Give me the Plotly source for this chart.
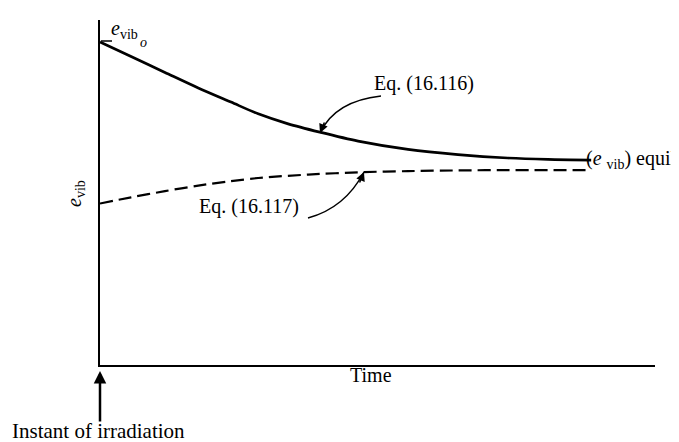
import plotly.graph_objects as go

# curve values (time and e_vib in arbitrary units, 0-10 scale)
time_relax = [0.0, 0.56, 1.17, 1.77, 2.36, 2.85, 3.39, 3.96, 4.65, 5.55, 6.45, 7.35, 8.07, 8.85]
e_vib_relax = [9.36, 8.94, 8.48, 8.03, 7.62, 7.28, 6.99, 6.75, 6.49, 6.25, 6.10, 6.00, 5.96, 5.94]

time_excite = [0.0, 0.56, 1.17, 1.77, 2.36, 2.85, 3.75, 4.74, 5.55, 6.45, 7.35, 8.85]
e_vib_excite = [4.68, 4.86, 5.04, 5.20, 5.33, 5.42, 5.52, 5.59, 5.62, 5.64, 5.65, 5.65]

W, H = 679, 442
L, R, T, B = 92, 32, 12, 85
SERIF = "Liberation Serif, Times New Roman, serif"
TEXT_SHIFT = 9  # plotly draws serif text a bit below the box middle


def px(x):
    """pixel column -> data x"""
    return (x - L) / (W - L - R) * 10


def py(y):
    """pixel row -> data y"""
    return (H - B - y) / (H - B - T) * 10


def pap(x, y):
    """pixel -> paper coords"""
    return px(x) / 10, py(y) / 10


fig = go.Figure()

fig.add_trace(go.Scatter(
    x=time_relax, y=e_vib_relax,
    mode='lines', line=dict(color='black', width=2.7, shape='spline', smoothing=0.8),
    showlegend=False, hoverinfo='skip'
))

fig.add_trace(go.Scatter(
    x=time_excite, y=e_vib_excite,
    mode='lines', line=dict(color='black', width=2.2, dash='13px,6px', shape='spline', smoothing=0.8),
    showlegend=False, hoverinfo='skip'
))

shapes = [
    # tick pointing at e_vib_o
    dict(type='line', xref='x', yref='y', x0=px(93), y0=py(33), x1=px(104), y1=py(33),
         line=dict(color='black', width=1.5)),
    # curved leader for Eq. (16.116)
    dict(type='path', xref='x', yref='y',
         path=f"M {px(373)},{py(88)} Q {px(327)},{py(93)} {px(312)},{py(125)}",
         line=dict(color='black', width=1.5)),
    # curved leader for Eq. (16.117)
    dict(type='path', xref='x', yref='y',
         path=f"M {px(300)},{py(210)} Q {px(337)},{py(200)} {px(356)},{py(164)}",
         line=dict(color='black', width=1.5)),
]

txt = dict(color='black', family=SERIF, size=20)


def label(x, y, text, shift=TEXT_SHIFT, **kw):
    xp, yp = pap(x, y - shift)
    d = dict(x=xp, y=yp, xref='paper', yref='paper', text=text, showarrow=False, font=txt,
             xanchor='center', yanchor='middle')
    d.update(kw)
    return d


def arrow(x, y, ax, ay, width=1.5, size=1.2):
    xp, yp = pap(x, y)
    return dict(x=xp, y=yp, xref='paper', yref='paper', text='', showarrow=True,
                ax=ax, ay=ay, arrowhead=2, arrowsize=size, arrowwidth=width, arrowcolor='black')


annotations = [
    # arrowheads of the curved leaders
    arrow(312, 125, 5, -12),
    arrow(356, 164, -5, 12),
    # instant of irradiation arrow
    arrow(92, 363, 0, 52, width=2.5, size=1),
    label(90, 432, 'Instant of irradiation', font=dict(color='black', family=SERIF, size=21)),
    label(363, 376, 'Time'),
    label(364, 85, 'Eq. (16.116)', xanchor='left'),
    label(293, 207, 'Eq. (16.117)', xanchor='right'),
    label(576, 160, '(<i>e</i> <sub>vib</sub>) equil', xanchor='left'),
    label(101, 31, '<i>e</i><sub>vib</sub>', xanchor='left'),
    label(130, 43, '<i>o</i>', xanchor='left', font=dict(color='black', family=SERIF, size=14)),
    label(67, 186, '<i>e</i><sub>vib</sub>', shift=0, textangle=-90),
]

fig.update_layout(
    width=W, height=H,
    margin=dict(l=L, r=R, t=T, b=B),
    paper_bgcolor='white', plot_bgcolor='white',
    shapes=shapes, annotations=annotations,
    xaxis=dict(range=[0, 10], showline=True, linecolor='black', linewidth=2,
               showgrid=False, zeroline=False, showticklabels=False, ticks=''),
    yaxis=dict(range=[0, 10], showline=True, linecolor='black', linewidth=2,
               showgrid=False, zeroline=False, showticklabels=False, ticks=''),
)

fig.write_html("out.html")
